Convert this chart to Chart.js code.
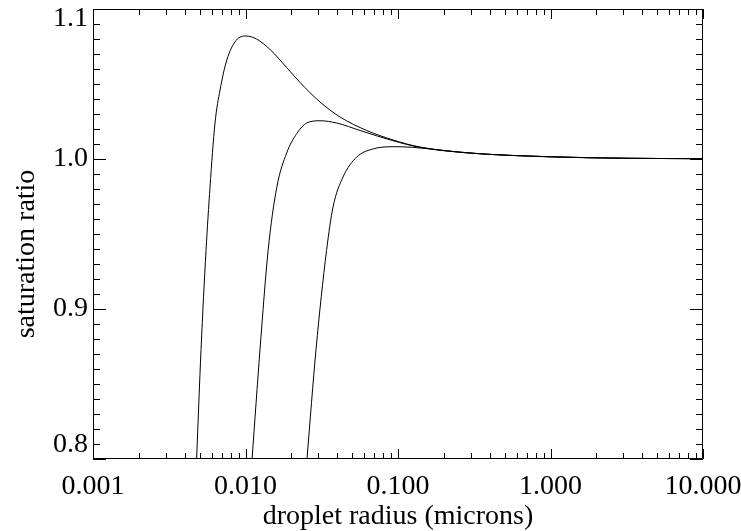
<!DOCTYPE html>
<html>
<head>
<meta charset="utf-8">
<script src="https://cdn.jsdelivr.net/npm/chart.js@4.4.1/dist/chart.umd.min.js"></script>
<style>
  html, body { margin: 0; padding: 0; background: #fff; }
  #wrap { width: 741px; height: 531px; }
</style>
</head>
<body>
<div id="wrap"><canvas id="kohler"></canvas></div>
<script>
// axis ticks
const xTicks = [0.001, 0.01, 0.1, 1, 10];
const yTicks = [0.8, 0.9, 1.0, 1.1];
const yMinorStep = 0.01;

// three saturation-ratio curves
const radius1 = [0.00478, 0.00511, 0.00551, 0.00585, 0.00631, 0.00681, 0.00754, 0.00867, 0.0101, 0.0118, 0.0145, 0.0186, 0.0228, 0.0308, 0.0417, 0.0624, 0.0927, 0.139, 0.282, 1.0, 3.16, 10];
const ratio1  = [0.800, 0.873, 0.939, 0.981, 1.024, 1.046, 1.066, 1.079, 1.082, 1.080, 1.073, 1.061, 1.051, 1.038, 1.028, 1.019, 1.0127, 1.008, 1.0042, 1.0015, 1.0005, 1.0002];

const radius2 = [0.01104, 0.01245, 0.01407, 0.01603, 0.01862, 0.0217, 0.0252, 0.0308, 0.0396, 0.0564, 0.0927, 0.139, 0.282, 1.0, 3.16, 10];
const ratio2  = [0.800, 0.873, 0.939, 0.981, 1.004, 1.017, 1.024, 1.0255, 1.024, 1.019, 1.0122, 1.0078, 1.0041, 1.0015, 1.0005, 1.0002];

const radius3 = [0.0253, 0.0290, 0.0340, 0.0375, 0.0436, 0.0536, 0.0686, 0.0927, 0.125, 0.208, 0.310, 1.0, 3.16, 10];
const ratio3  = [0.800, 0.873, 0.939, 0.968, 0.988, 1.0013, 1.0067, 1.0082, 1.0078, 1.0055, 1.0038, 1.0014, 1.0005, 1.0002];

const serif = "'Liberation Serif', 'DejaVu Serif', serif";
const fontSize = 28;

function toPoints(xs, ys) {
  return xs.map((x, i) => ({ x: x, y: ys[i] }));
}

function curve(xs, ys) {
  return {
    data: toPoints(xs, ys),
    borderColor: "#000",
    borderWidth: 1,
    pointRadius: 0,
    fill: false,
    cubicInterpolationMode: "monotone"
  };
}

// IDL style box: frame with inward ticks on all four sides, plus y labels
const frameTicks = {
  id: "frameTicks",
  afterDatasetsDraw(chart) {
    const { ctx, chartArea: a, scales: { x, y } } = chart;
    ctx.save();
    ctx.strokeStyle = "#000";
    ctx.lineWidth = 1;
    ctx.beginPath();
    ctx.rect(a.left + 0.5, a.top + 0.5, a.right - a.left - 1, a.bottom - a.top - 1);

    const xTick = (val, len) => {
      const px = Math.round(x.getPixelForValue(val)) + 0.5;
      ctx.moveTo(px, a.bottom); ctx.lineTo(px, a.bottom - len);
      ctx.moveTo(px, a.top); ctx.lineTo(px, a.top + len);
    };
    xTicks.forEach((d, i) => {
      xTick(d, 10);
      if (i < xTicks.length - 1) {
        for (let k = 2; k <= 9; k++) xTick(d * k, 6);
      }
    });

    const yMin = yTicks[0], yMax = yTicks[yTicks.length - 1];
    const n = Math.round((yMax - yMin) / yMinorStep);
    for (let i = 0; i <= n; i++) {
      const val = yMin + i * yMinorStep;
      const len = i % 10 === 0 ? 13 : 7;
      const py = Math.round(y.getPixelForValue(val)) + 0.5;
      ctx.moveTo(a.left, py); ctx.lineTo(a.left + len, py);
      ctx.moveTo(a.right, py); ctx.lineTo(a.right - len, py);
    }
    ctx.stroke();

    ctx.fillStyle = "#000";
    ctx.font = fontSize + "px " + serif;
    ctx.textAlign = "right";
    ctx.textBaseline = "middle";
    yTicks.forEach(v => {
      let py = y.getPixelForValue(v);
      py = Math.min(Math.max(py, a.top + 10), a.bottom - 14);
      ctx.fillText(v.toFixed(1), a.left - 5, py);
    });

    ctx.translate(27, (a.top + a.bottom) / 2 + 20);
    ctx.rotate(-Math.PI / 2);
    ctx.textAlign = "center";
    ctx.fillText("saturation ratio", 0, 0);
    ctx.restore();
  }
};

new Chart(document.getElementById("kohler"), {
  type: "line",
  data: {
    datasets: [curve(radius1, ratio1), curve(radius2, ratio2), curve(radius3, ratio3)]
  },
  options: {
    responsive: true,
    maintainAspectRatio: false,
    animation: false,
    layout: { padding: { top: 9, right: 38, left: 0, bottom: 0 } },
    plugins: { legend: { display: false }, tooltip: { enabled: false } },
    scales: {
      x: {
        type: "logarithmic",
        min: 0.001,
        max: 10,
        grid: { display: false, drawTicks: false },
        border: { display: false },
        afterBuildTicks: s => { s.ticks = xTicks.map(v => ({ value: v })); },
        afterFit: s => { s.height = 72; s.paddingLeft = 0; s.paddingRight = 0; },
        ticks: {
          color: "#000",
          font: { family: serif, size: fontSize },
          padding: 11,
          maxRotation: 0,
          autoSkip: false,
          callback: v => Number(v).toFixed(3)
        },
        title: {
          display: true,
          text: "droplet radius (microns)",
          color: "#000",
          font: { family: serif, size: fontSize, lineHeight: 1 },
          padding: { top: 0, bottom: 0 }
        }
      },
      y: {
        min: 0.8,
        max: 1.1,
        grid: { display: false, drawTicks: false },
        border: { display: false },
        ticks: { display: false },
        afterFit: s => { s.width = 93; }
      }
    }
  },
  plugins: [frameTicks]
});
</script>
</body>
</html>
